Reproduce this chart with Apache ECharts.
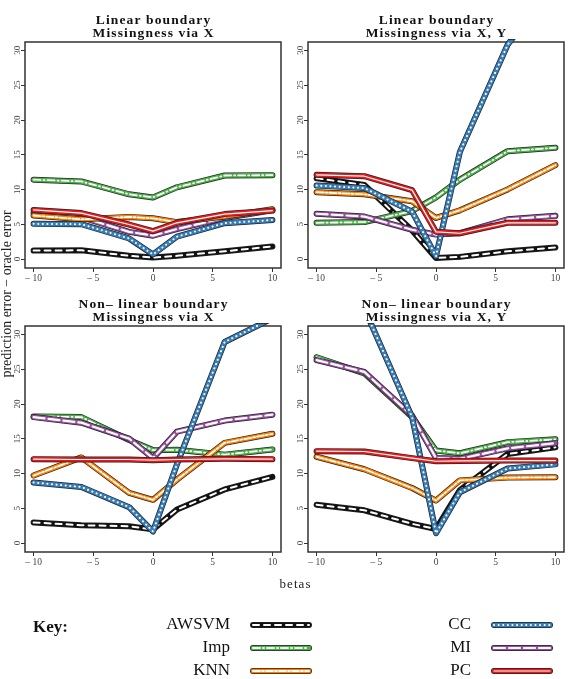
<!DOCTYPE html>
<html>
<head>
<meta charset="utf-8">
<script src="https://cdn.jsdelivr.net/npm/echarts@6/dist/echarts.min.js"></script>
<style>
  html, body { margin: 0; padding: 0; background: #fff; }
  #chart { width: 572px; height: 679px; }
</style>
</head>
<body>
<div id="chart"></div>
<script>
// data (rows follow the order of `methods`)
var betas = [-10, -6, -2, 0, 2, 6, 10];
var methods = ['AWSVM', 'Imp', 'KNN', 'CC', 'MI', 'PC'];
var xTicks = [-10, -5, 0, 5, 10];
var yTicks = [0, 5, 10, 15, 20, 25, 30];

var linearX = [
  [1.2, 1.25, 0.45, 0.2, 0.45, 1.1, 1.8],
  [11.4, 11.15, 9.3, 8.85, 10.3, 12.0, 12.05],
  [6.25, 5.7, 6.05, 5.85, 5.3, 6.1, 7.15],
  [5.05, 5.0, 2.95, 0.65, 3.2, 5.15, 5.6],
  [6.6, 6.0, 3.9, 3.35, 4.3, 5.9, 7.0],
  [7.05, 6.6, 4.95, 4.0, 5.2, 6.45, 6.95]
];
var linearXY = [
  [11.6, 10.65, 4.1, 0.15, 0.3, 1.1, 1.65],
  [5.2, 5.3, 6.9, 8.85, 11.4, 15.5, 16.0],
  [9.6, 9.3, 8.3, 5.9, 7.0, 10.0, 13.5],
  [10.55, 10.2, 6.8, 0.4, 15.4, 30.8, 40],
  [6.5, 6.1, 4.2, 3.5, 3.7, 5.7, 6.2],
  [12.1, 11.9, 9.9, 3.9, 3.7, 5.2, 5.2]
];
var nonlinX = [
  [2.95, 2.55, 2.4, 1.95, 4.8, 7.7, 9.5],
  [18.2, 18.1, 14.8, 13.35, 13.4, 12.7, 13.45],
  [9.7, 12.3, 7.2, 6.2, 9.1, 14.4, 15.7],
  [8.7, 8.05, 5.15, 1.65, 11.3, 28.9, 32.3],
  [18.1, 17.3, 15.0, 12.2, 16.0, 17.6, 18.45],
  [12.05, 12.0, 12.0, 11.9, 12.0, 12.1, 12.05]
];
var nonlinXY = [
  [5.5, 4.7, 2.75, 2.0, 7.6, 12.8, 13.75],
  [26.7, 24.4, 18.1, 13.3, 12.9, 14.5, 14.9],
  [12.4, 10.6, 7.9, 6.1, 9.0, 9.4, 9.45],
  [48, 33.7, 18.1, 1.4, 7.3, 10.7, 11.3],
  [26.3, 24.6, 18.3, 12.2, 12.1, 13.6, 14.35],
  [13.2, 13.15, 12.2, 11.75, 11.8, 11.85, 11.85]
];
var titleTop = ['Linear boundary', 'Linear boundary', 'Non\u2013 linear boundary', 'Non\u2013 linear boundary'];
var titleBottom = ['Missingness via X', 'Missingness via X, Y', 'Missingness via X', 'Missingness via X, Y'];

// styles
var colors = ['#111111', '#4daf4a', '#ff7f00', '#377eb8', '#984ea3', '#e41a1c'];
var dashes = [[6, 5], [7, 3, 1, 3], [7, 2, 2, 2], [0.1, 4.5], [11, 4], 'solid'];
var dashWidths = [2, 1.8, 1.8, 2, 2.2, 1.2];
var drawOrder = [0, 1, 4, 2, 3, 5];

var chart = echarts.init(document.getElementById('chart'));
var serif = 'Liberation Serif, Times New Roman, serif';
var panels = [linearX, linearXY, nonlinX, nonlinXY];
var gridPos = [[25, 42], [308, 42], [25, 326], [308, 326]];

var grids = [], xAxes = [], yAxes = [], series = [], graphics = [];

function tickText(v) {
  return v < 0 ? '\u2013 ' + (-v) : String(v);
}
// spread letters a bit, like the original typesetting
function spaced(s) {
  return s.split('').join('\u200A');
}

panels.forEach(function (rows, p) {
  grids.push({
    left: gridPos[p][0], top: gridPos[p][1], width: 256, height: 226,
    show: true, borderColor: '#333', borderWidth: 1.5
  });
  xAxes.push({
    type: 'value', gridIndex: p, min: -10.72, max: 10.72,
    axisLine: { show: false, onZero: false },
    splitLine: { show: false },
    axisTick: { show: true, customValues: xTicks, length: 4, lineStyle: { color: '#333' } },
    axisLabel: { customValues: xTicks, formatter: tickText, margin: 5, fontSize: 9.5, color: '#444', fontFamily: serif }
  });
  yAxes.push({
    type: 'value', gridIndex: p, min: -1.3, max: 31.2,
    axisLine: { show: false, onZero: false },
    splitLine: { show: false },
    axisTick: { show: true, customValues: yTicks, length: 4, lineStyle: { color: '#333' } },
    axisLabel: { customValues: yTicks, rotate: 90, margin: 3, fontSize: 9, color: '#444', fontFamily: serif }
  });

  drawOrder.forEach(function (m) {
    var pts = betas.map(function (b, k) { return [b, rows[m][k]]; });
    var base = {
      type: 'line', xAxisIndex: p, yAxisIndex: p, data: pts,
      symbol: 'none', showSymbol: false, silent: true, animation: false, clip: true
    };
    series.push(Object.assign({}, base, {
      lineStyle: { color: '#222', width: 6, cap: 'round', join: 'round' }
    }));
    series.push(Object.assign({}, base, {
      lineStyle: { color: colors[m], width: 4.6, cap: 'round', join: 'round' }
    }));
    series.push(Object.assign({}, base, {
      lineStyle: { color: '#fff', width: dashWidths[m], type: dashes[m], cap: 'round', join: 'round' }
    }));
  });

  var cx = gridPos[p][0] + 128;
  graphics.push({
    type: 'text', x: cx, y: gridPos[p][1] - 21,
    style: { text: spaced(titleTop[p]), font: 'bold 13.5px ' + serif, fill: '#111',
      textAlign: 'center', textVerticalAlign: 'middle' }
  });
  graphics.push({
    type: 'text', x: cx, y: gridPos[p][1] - 8.5,
    style: { text: spaced(titleBottom[p]), font: 'bold 13.5px ' + serif, fill: '#111',
      textAlign: 'center', textVerticalAlign: 'middle' }
  });
});

// axis titles
graphics.push({
  type: 'text', x: 7, y: 294, rotation: Math.PI / 2,
  style: { text: 'prediction error \u2212 oracle error', font: '14px ' + serif, fill: '#222',
    textAlign: 'center', textVerticalAlign: 'middle' }
});
graphics.push({
  type: 'text', x: 295, y: 585,
  style: { text: spaced('betas'), font: '13px ' + serif, fill: '#222', textAlign: 'center', textVerticalAlign: 'middle' }
});

// key
graphics.push({
  type: 'text', x: 33, y: 628,
  style: { text: 'Key:', font: 'bold 17px ' + serif, fill: '#111', textVerticalAlign: 'middle' }
});
var keyLabelX = [230, 471];
var keyLineX = [[253, 309], [494, 550]];
var keyRowY = [625, 648, 671];
methods.forEach(function (name, m) {
  var col = m < 3 ? 0 : 1, y = keyRowY[m % 3];
  graphics.push({
    type: 'text', x: keyLabelX[col], y: y,
    style: { text: name, font: '17px ' + serif, fill: '#111', textAlign: 'right', textVerticalAlign: 'middle' }
  });
  var shape = { x1: keyLineX[col][0], y1: y, x2: keyLineX[col][1], y2: y };
  graphics.push({ type: 'line', shape: shape, style: { stroke: '#222', lineWidth: 6, lineCap: 'round' } });
  graphics.push({ type: 'line', shape: shape, style: { stroke: colors[m], lineWidth: 4.6, lineCap: 'round' } });
  graphics.push({ type: 'line', shape: shape, style: {
    stroke: '#fff', lineWidth: dashWidths[m], lineCap: 'round',
    lineDash: dashes[m] === 'solid' ? null : dashes[m]
  } });
});

chart.setOption({
  backgroundColor: '#fff',
  animation: false,
  grid: grids,
  xAxis: xAxes,
  yAxis: yAxes,
  series: series,
  graphic: graphics
});
</script>
</body>
</html>
